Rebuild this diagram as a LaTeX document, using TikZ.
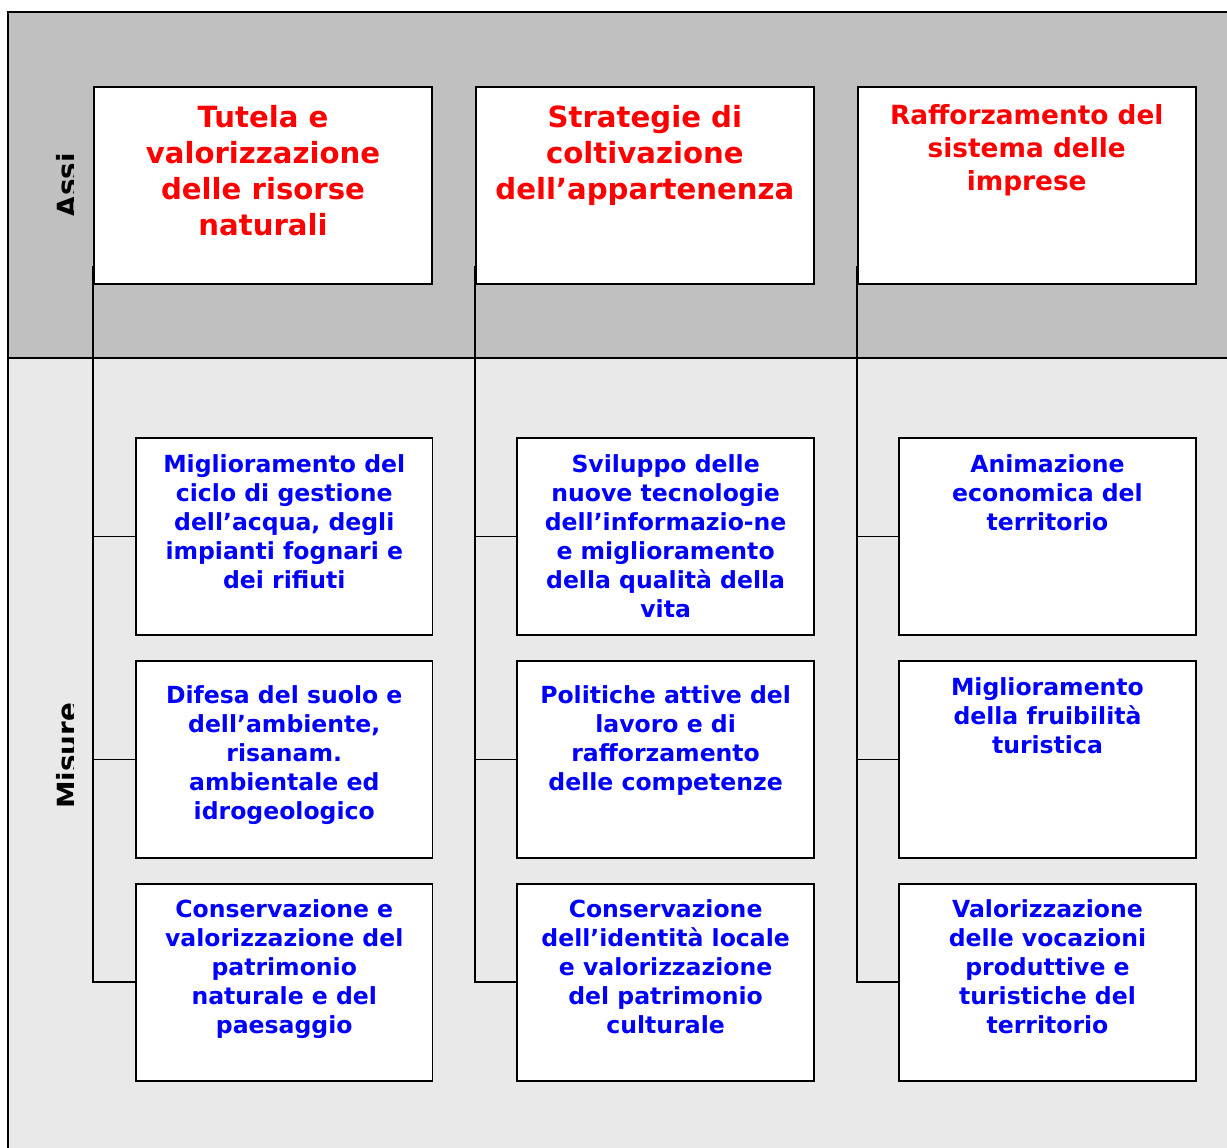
\documentclass[tikz,border=0pt]{standalone}
\usepackage{fontspec}
\setsansfont{DejaVu Sans}
\usetikzlibrary{positioning,calc}
\definecolor{bandtop}{HTML}{C0C0C0}
\definecolor{bandlow}{HTML}{E9E9E9}

\begin{document}
\begin{tikzpicture}[x=0.02cm, y=-0.02cm,
  asse/.style={draw, line width=1.1pt, fill=white, inner sep=0pt,
               minimum width=6.76cm, minimum height=3.94cm},
  misura/.style={draw, line width=1.1pt, fill=white, inner sep=0pt,
                 minimum width=5.93cm, minimum height=3.94cm},
  assetxt/.style={font=\sffamily\bfseries\fontsize{16.6}{20.5}\selectfont,
                  text=red, align=center, inner sep=0pt},
  misuratxt/.style={font=\sffamily\bfseries\fontsize{13.4}{16.5}\selectfont,
                    text=blue, align=center, inner sep=0pt},
  side/.style={font=\sffamily\bfseries\fontsize{15.8}{19}\selectfont,
               rotate=90, anchor=base, inner sep=0pt},
  link/.style={line width=0.85pt}]
\clip (0,0) rectangle (1227,1148);
\fill[bandtop] (8,12) rectangle (1240,358);
\fill[bandlow] (8,358) rectangle (1240,1160);
\draw[line width=1.1pt] (1240,12) -- (8,12) -- (8,1160);
\draw[line width=1.1pt] (8,358) -- (1240,358);
% row titles, cut at the edge of their strip
\begin{scope}
  \clip (8,12) rectangle (73,1148);
  \node[side] (assi) at (77,185) {Assi};
  \node[side] (misure) at (77,756) {Misure};
\end{scope}

\node[asse] (a1) at (263,185.5) {};
\node[asse, right=0.84cm of a1] (a2) {};
\node[asse, right=0.84cm of a2] (a3) {};

\node[misura, below right=3.04cm and 0.84cm of a1.south west] (m11) {};
\node[misura, below=0.48cm of m11] (m12) {};
\node[misura, below=0.48cm of m12] (m13) {};
\node[misura, below right=3.04cm and 0.83cm of a2.south west] (m21) {};
\node[misura, below=0.48cm of m21] (m22) {};
\node[misura, below=0.48cm of m22] (m23) {};
\node[misura, below right=3.04cm and 0.83cm of a3.south west] (m31) {};
\node[misura, below=0.48cm of m31] (m32) {};
\node[misura, below=0.48cm of m32] (m33) {};

\node[assetxt, below=0.38cm of a1.north] (a1t) {Tutela e\\valorizzazione\\delle risorse\\naturali};
\node[assetxt, below=0.38cm of a2.north] (a2t) {Strategie di\\coltivazione\\dell’appartenenza};
\node[assetxt, below=0.37cm of a3.north,
      font=\sffamily\bfseries\fontsize{15}{18.8}\selectfont] (a3t) {Rafforzamento del\\sistema delle\\imprese};

\node[misuratxt, below=0.34cm of m11.north] (m11t) {Miglioramento del\\ciclo di gestione\\dell’acqua, degli\\impianti fognari e\\dei rifiuti};
\node[misuratxt, below=0.5cm of m12.north] (m12t) {Difesa del suolo e\\dell’ambiente,\\risanam.\\ambientale ed\\idrogeologico};
\node[misuratxt, below=0.34cm of m13.north] (m13t) {Conservazione e\\valorizzazione del\\patrimonio\\naturale e del\\paesaggio};
\node[misuratxt, below=0.34cm of m21.north] (m21t) {Sviluppo delle\\nuove tecnologie\\dell’informazio-ne\\e miglioramento\\della qualità della\\vita};
\node[misuratxt, below=0.5cm of m22.north] (m22t) {Politiche attive del\\lavoro e di\\rafforzamento\\delle competenze};
\node[misuratxt, below=0.34cm of m23.north] (m23t) {Conservazione\\dell’identità locale\\e valorizzazione\\del patrimonio\\culturale};
\node[misuratxt, below=0.34cm of m31.north] (m31t) {Animazione\\economica del\\territorio};
\node[misuratxt, below=0.34cm of m32.north] (m32t) {Miglioramento\\della fruibilità\\turistica};
\node[misuratxt, below=0.34cm of m33.north] (m33t) {Valorizzazione\\delle vocazioni\\produttive e\\turistiche del\\territorio};

\draw[link] ($(a1.south west)+(0,-19)$) -- (a1.south west |- m13.west) -- (m13.west);
\draw[link] (a1.south west |- m11.west) -- (m11.west);
\draw[link] (a1.south west |- m12.west) -- (m12.west);
\draw[link] ($(a2.south west)+(0,-19)$) -- (a2.south west |- m23.west) -- (m23.west);
\draw[link] (a2.south west |- m21.west) -- (m21.west);
\draw[link] (a2.south west |- m22.west) -- (m22.west);
\draw[link] ($(a3.south west)+(0,-19)$) -- (a3.south west |- m33.west) -- (m33.west);
\draw[link] (a3.south west |- m31.west) -- (m31.west);
\draw[link] (a3.south west |- m32.west) -- (m32.west);
\end{tikzpicture}
\end{document}
